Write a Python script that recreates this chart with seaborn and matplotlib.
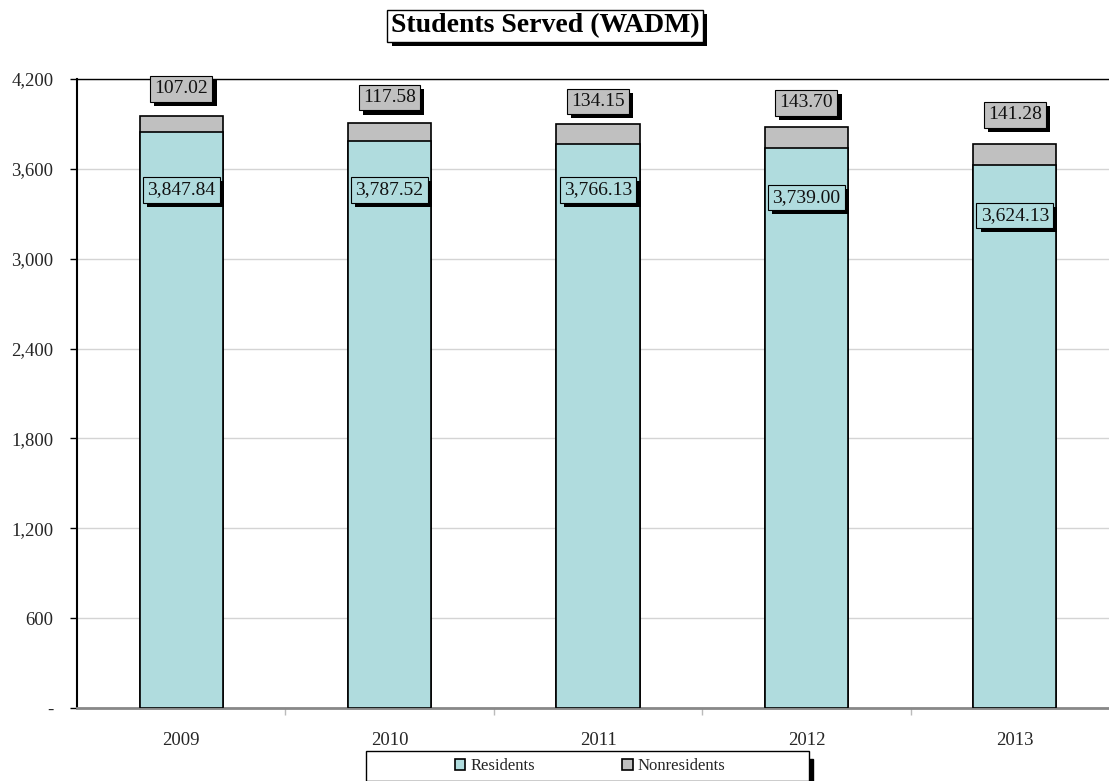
import matplotlib
matplotlib.use("Agg")
import matplotlib.pyplot as plt
import matplotlib.patheffects as pe
from matplotlib.patches import Patch, Rectangle
from matplotlib.ticker import FixedLocator, FuncFormatter
import numpy as np
import pandas as pd
import seaborn as sns

# ---- data ----
years = ["2009", "2010", "2011", "2012", "2013"]
residents = [3847.84, 3787.52, 3766.13, 3739.00, 3624.13]
nonresidents = [107.02, 117.58, 134.15, 143.70, 141.28]
y_ticks = [0, 600, 1200, 1800, 2400, 3000, 3600, 4200]

# vertical placement of the value boxes (data units)
res_label_y = [3460, 3460, 3460, 3410, 3290]
non_label_y = [4135, 4075, 4050, 4040, 3960]

RES_COLOR = "#B0DCDE"
NON_COLOR = "#C0C0C0"

sns.set_theme(style="white")
plt.rcParams["font.family"] = ["Liberation Serif", "DejaVu Serif"]

df = pd.DataFrame({
    "year": years,
    "Residents": residents,
    "Nonresidents": nonresidents,
})
df["total"] = df["Residents"] + df["Nonresidents"]

fig = plt.figure(figsize=(11.09, 7.81), dpi=100)
ax = fig.add_axes([77 / 1109, 73 / 781, (1119 - 77) / 1109, 629 / 781])

# stacked bars: totals first (nonresident colour), residents drawn over them
sns.barplot(data=df, x="year", y="total", color=NON_COLOR, width=0.4,
            edgecolor="black", linewidth=1.2, saturation=1, ax=ax, zorder=2)
sns.barplot(data=df, x="year", y="Residents", color=RES_COLOR, width=0.4,
            edgecolor="black", linewidth=1.2, saturation=1, ax=ax, zorder=3)

ax.set_xlim(-0.5, 4.5)
ax.set_ylim(0, 4200)
ax.set_xlabel("")
ax.set_ylabel("")

ax.yaxis.set_major_locator(FixedLocator(y_ticks))
ax.yaxis.set_major_formatter(FuncFormatter(lambda v, p: "-" if v == 0 else f"{v:,.0f}"))
ax.yaxis.grid(True, color="#D4D4D4", linewidth=1, zorder=0)
ax.set_axisbelow(True)

ax.tick_params(axis="y", which="major", left=True, length=5, width=1,
               color="black", direction="out", pad=12, labelsize=13.5)
ax.tick_params(axis="x", which="major", bottom=False, pad=11, labelsize=13.5)
ax.set_xticks(np.arange(0.5, 4, 1), minor=True)
ax.tick_params(axis="x", which="minor", bottom=True, length=5, width=1,
               color="#BBBBBB", direction="out")

ax.spines["left"].set_color("black")
ax.spines["left"].set_linewidth(1.5)
ax.spines["bottom"].set_color("#888888")
ax.spines["bottom"].set_linewidth(2)
ax.spines["top"].set_color("black")
ax.spines["top"].set_linewidth(1)
ax.spines["right"].set_visible(False)

shadow = [pe.SimplePatchShadow(offset=(3, -3), shadow_rgbFace="black", alpha=1.0), pe.Normal()]


def boxed_label(x, y, text, face):
    box = dict(boxstyle="square,pad=0.22", facecolor=face, edgecolor="black", linewidth=0.8)
    t = ax.text(x, y, text, ha="center", va="center", fontsize=14, color="#111111",
                bbox=box, zorder=6, clip_on=False)
    t.get_bbox_patch().set_path_effects(shadow)


for i in range(len(years)):
    boxed_label(i, non_label_y[i], f"{nonresidents[i]:,.2f}", NON_COLOR)
    boxed_label(i, res_label_y[i], f"{residents[i]:,.2f}", RES_COLOR)

# title with drop shadow
title = fig.text(545 / 1109, 1 - 26 / 781, "Students Served (WADM)", color="black",
                 ha="center", va="center", fontsize=20, fontweight="bold",
                 bbox=dict(boxstyle="square,pad=0.12", facecolor="white",
                           edgecolor="black", linewidth=1))
title.get_bbox_patch().set_path_effects(shadow)

# legend panel with shadow along its right edge
fig.patches.append(Rectangle((370 / 1109, -0.01), 443 / 1109, 30 / 781,
                             transform=fig.transFigure, facecolor="black",
                             edgecolor="black", zorder=1))
fig.patches.append(Rectangle((366 / 1109, 0), 443 / 1109, 30 / 781,
                             transform=fig.transFigure, facecolor="white",
                             edgecolor="black", linewidth=1, zorder=2))
handles = [Patch(facecolor=RES_COLOR, edgecolor="black", linewidth=1.2, label="Residents"),
           Patch(facecolor=NON_COLOR, edgecolor="black", linewidth=1.2, label="Nonresidents")]
leg = fig.legend(handles=handles, loc="center", bbox_to_anchor=(590 / 1109, 15 / 781),
                 ncol=2, frameon=False, fontsize=12, handlelength=0.65, handleheight=0.65,
                 handletextpad=0.3, columnspacing=5.2)
leg.set_zorder(3)

fig.savefig("out.png", dpi=100)
